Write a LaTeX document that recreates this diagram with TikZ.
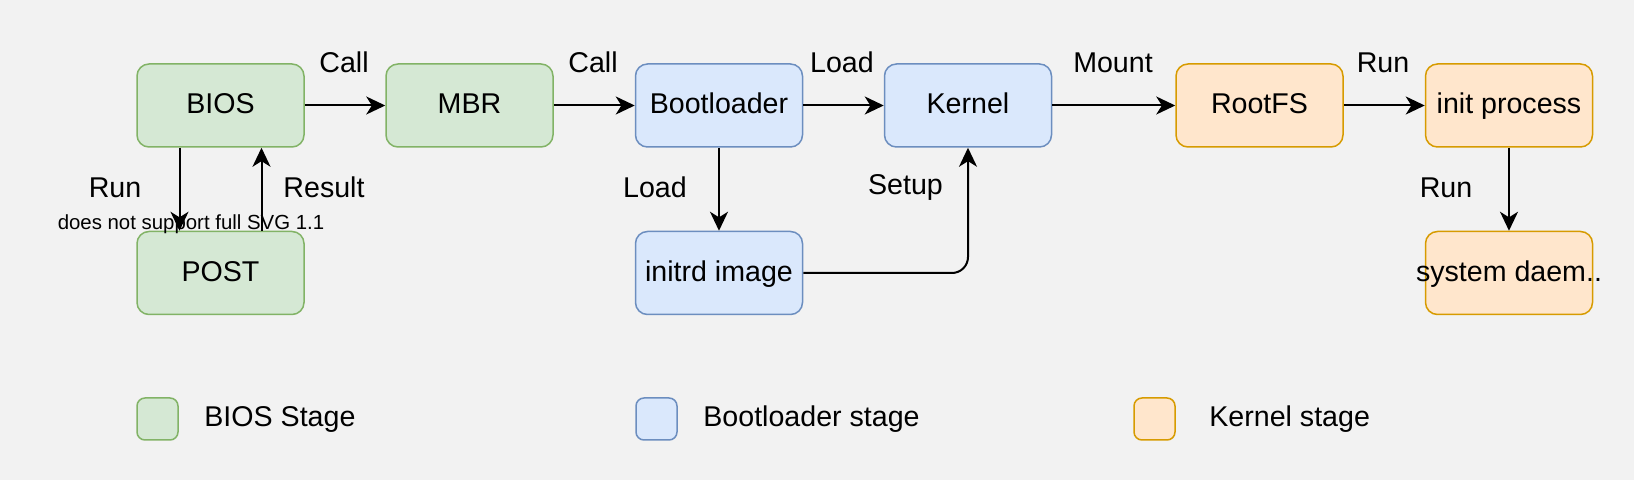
\documentclass[tikz,border=0pt]{standalone}
\usepackage{fontspec}
\setmainfont{Liberation Sans}
\usetikzlibrary{arrows.meta}
\definecolor{bgc}{RGB}{242,242,242}
\definecolor{gfill}{HTML}{D5E8D4}\definecolor{gdraw}{HTML}{82B366}
\definecolor{bfill}{HTML}{DAE8FC}\definecolor{bdraw}{HTML}{6C8EBF}
\definecolor{ofill}{HTML}{FFE6CC}\definecolor{odraw}{HTML}{D79B00}
\tikzset{
  box/.style={rounded corners=6pt, line width=0.75pt, minimum width=83.5pt, minimum height=41.5pt, inner sep=0pt, text height=11pt, text depth=2.8pt, font=\fontsize{14.3}{17}\selectfont},
  gbox/.style={box, fill=gfill, draw=gdraw},
  bbox/.style={box, fill=bfill, draw=bdraw},
  obox/.style={box, fill=ofill, draw=odraw},
  legsq/.style={rounded corners=4pt, line width=0.75pt, minimum width=20.5pt, minimum height=21pt, inner sep=0pt},
  lbl/.style={font=\fontsize{14.3}{17}\selectfont, inner sep=0pt},
  small/.style={font=\fontsize{10.2}{12}\selectfont, inner sep=0pt},
  arr/.style={-{Stealth[length=9.5pt, width=9pt, inset=2.8pt]}, line width=1pt, black}
}
\begin{document}
\begin{tikzpicture}[x=0.5pt, y=-0.5pt]
\fill[bgc] (0,0) rectangle (1634,480);
\useasboundingbox (0,0) rectangle (1634,480);
% nodes
\node[gbox] (bios) at (220.5,105.5) {BIOS};
\node[gbox] (mbr) at (469.5,105.5) {MBR};
\node[bbox] (boot) at (719,105.5) {Bootloader};
\node[bbox] (kern) at (968,105.5) {Kernel};
\node[obox] (rootfs) at (1259.5,105.5) {RootFS};
\node[obox] (init) at (1509,105.5) {init process};
\node[gbox] (post) at (220.5,273) {POST};
\node[bbox] (initrd) at (719,273) {initrd image};
\node[obox] (daemon) at (1509,273) {\makebox[0pt]{system daem..}};
% edges
\draw[arr] (bios.east) -- (mbr.west);
\draw[arr] (mbr.east) -- (boot.west);
\draw[arr] (boot.east) -- (kern.west);
\draw[arr] (kern.east) -- (rootfs.west);
\draw[arr] (rootfs.east) -- (init.west);
\draw[arr] ([xshift=-20.5pt]bios.south) -- ([xshift=-20.5pt]post.north);
\draw[arr] ([xshift=20.5pt]post.north) -- ([xshift=20.5pt]bios.south);
\draw[arr] (boot.south) -- (initrd.north);
\draw[arr, rounded corners=8pt] (initrd.east) -| (kern.south);
\draw[arr] (init.south) -- (daemon.north);
% labels
\node[lbl] (l1) at (344,62.5) {Call};
\node[lbl] (l2) at (593,62.5) {Call};
\node[lbl] (l3) at (842,62.5) {Load};
\node[lbl] (l4) at (1113,62.5) {Mount};
\node[lbl] (l5) at (1383,62.5) {Run};
\node[lbl] (l6) at (115,187.5) {Run};
\node[lbl] (l7) at (324,187.5) {Result};
\node[lbl] (l8) at (655,187.5) {Load};
\node[lbl] (l9) at (905.5,187.5) {Setup};
\node[lbl] (l10) at (1446,187.5) {Run};
\node[small] (warn) at (191,224) {does not support full SVG 1.1};
% legend
\node[legsq, fill=gfill, draw=gdraw] (lg1) at (157.5,419) {};
\node[legsq, fill=bfill, draw=bdraw] (lg2) at (656.5,419) {};
\node[legsq, fill=ofill, draw=odraw] (lg3) at (1154.5,419) {};
\node[lbl, anchor=west] (lt1) at (204,419) {BIOS Stage};
\node[lbl, anchor=west] (lt2) at (703,419) {Bootloader stage};
\node[lbl, anchor=west] (lt3) at (1209,419) {Kernel stage};
\end{tikzpicture}
\end{document}
